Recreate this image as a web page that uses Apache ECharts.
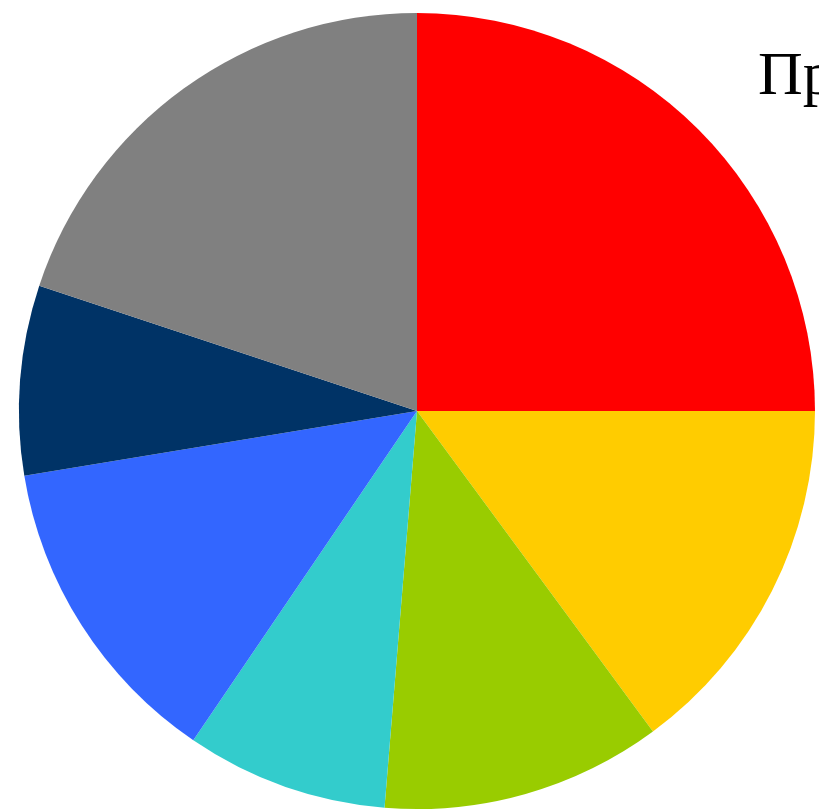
<!DOCTYPE html>
<html>
<head>
<meta charset="utf-8">
<script src="https://cdn.jsdelivr.net/npm/echarts@6/dist/echarts.min.js"></script>
<style>
html,body{margin:0;padding:0;background:#fff;}
#chart{width:819px;height:811px;}
</style>
</head>
<body>
<div id="chart"></div>
<script>
const categories = ['A','B','C','D','E','F','G'];
const values = [25, 14.9, 11.4, 8.2, 12.9, 7.7, 19.9];
const colors = ['#FF0000','#FFCC00','#99CC00','#33CCCC','#3366FF','#003366','#808080'];
const titleText = 'Пр';

const chart = echarts.init(document.getElementById('chart'), null, {renderer:'canvas'});
chart.setOption({
  animation: false,
  backgroundColor: '#ffffff',
  graphic: [{
    type: 'text',
    left: 758,
    top: 47,
    style: {
      text: titleText,
      font: '62px "Liberation Serif", "DejaVu Serif", serif',
      fill: '#000'
    }
  }],
  series: [{
    type: 'pie',
    center: [417, 411],
    radius: [0, 398],
    startAngle: 90,
    clockwise: true,
    label: {show: false},
    labelLine: {show: false},
    emphasis: {disabled: true},
    itemStyle: {borderWidth: 0},
    data: categories.map((c, i) => ({name: c, value: values[i], itemStyle: {color: colors[i]}}))
  }]
});
</script>
</body>
</html>
